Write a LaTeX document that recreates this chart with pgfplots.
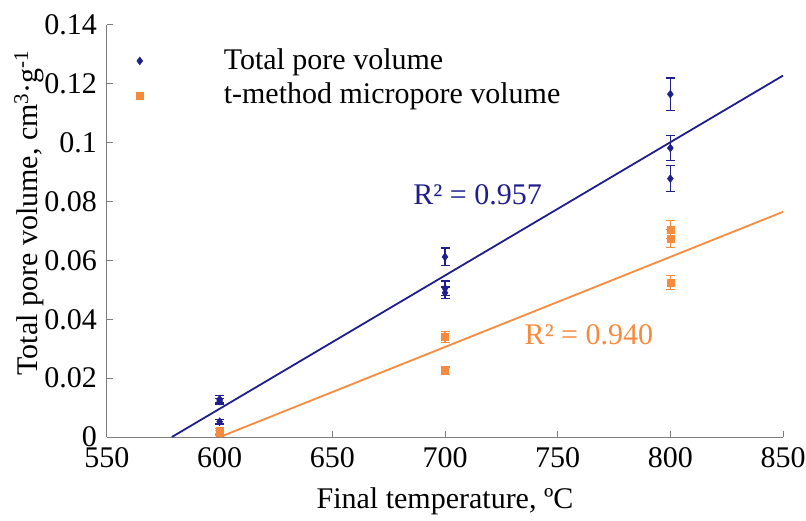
\documentclass[border=0pt]{standalone}
\usepackage{fontspec}
\setmainfont{Liberation Serif}
\usepackage{pgfplots}
\pgfplotsset{compat=1.18}

\definecolor{tpvblue}{RGB}{30,30,140}
\definecolor{microorange}{RGB}{247,138,60}
\definecolor{axisgray}{RGB}{125,125,125}

\newcommand{\bigfont}{\fontsize{30bp}{35bp}\selectfont}

\begin{document}
\bigfont
\begin{tikzpicture}
\begin{axis}[
  scale only axis,
  width=676bp, height=412bp,
  xmin=550, xmax=850, ymin=0, ymax=0.14,
  axis x line*=bottom, axis y line*=left,
  axis line style={axisgray, line width=1bp},
  xtick={550,600,650,700,750,800,850},
  ytick={0,0.02,0.04,0.06,0.08,0.1,0.12,0.14},
  yticklabels={0,0.02,0.04,0.06,0.08,0.1,0.12,0.14},
  tick align=inside,
  major tick length=6bp,
  tick style={axisgray, line width=1bp},
  /pgf/number format/assume math mode=true,
  ticklabel style={font=\bigfont},
  label style={font=\bigfont},
  xlabel={Final temperature, ºC},
  ylabel={Total pore volume, cm\textsuperscript{3}·g\textsuperscript{-1}},
  ylabel style={at={(axis description cs:-0.1154,0.544)}, anchor=center},
  clip=false,
  legend image code/.code={%
    \draw[#1] plot coordinates {(0bp,0bp)};
    \path[draw=none] (0bp,0bp) -- (83bp,0bp);},
  legend style={draw=none, fill=none, font=\bigfont,
    at={(axis cs:562.9,0.1325)}, anchor=north west,
    inner sep=0pt, row sep=7bp,
    nodes={inner sep=1bp},
    cells={anchor=west}},
]

% regression lines
\addplot[tpvblue, line width=1.8bp, forget plot] coordinates {(578.8,0) (850,0.1228)};
\addplot[microorange, line width=1.8bp, forget plot] coordinates {(600.1,0) (850,0.0765)};

% total pore volume with error bars
\addplot[only marks, mark=diamond*, mark size=4bp, color=tpvblue,
  error bars/.cd, y dir=both, y explicit,
  error bar style={line width=1.2bp, tpvblue},
  error mark options={rotate=90, mark size=4.5bp, line width=1.2bp, tpvblue}]
  coordinates {
    (600,0.0128) +- (0,0.0012)
    (600,0.0122) +- (0,0.0010)
    (600,0.0052) +- (0,0.0008)
    (700,0.0612) +- (0,0.0030)
    (700,0.0505) +- (0,0.0025)
    (700,0.0490) +- (0,0.0020)
    (800,0.1165) +- (0,0.0055)
    (800,0.0982) +- (0,0.0042)
    (800,0.0878) +- (0,0.0045)
  };
\addlegendentry{Total pore volume}

% t-method micropore volume with error bars
\addplot[only marks, mark=square*, mark size=3.5bp, color=microorange,
  error bars/.cd, y dir=both, y explicit,
  error bar style={line width=1.2bp, microorange},
  error mark options={rotate=90, mark size=4.5bp, line width=1.2bp, microorange}]
  coordinates {
    (600,0.0020) +- (0,0.0010)
    (600,0.0015) +- (0,0.0008)
    (700,0.0340) +- (0,0.0018)
    (700,0.0225) +- (0,0.0013)
    (800,0.0705) +- (0,0.0030)
    (800,0.0675) +- (0,0.0030)
    (800,0.0525) +- (0,0.0025)
  };
\addlegendentry{t-method micropore volume}

\node[anchor=west, inner sep=0pt, text=tpvblue, font=\bigfont] at (axis cs:685.9,0.0822) {R² = 0.957};
\node[anchor=west, inner sep=0pt, text=microorange, font=\bigfont] at (axis cs:735.3,0.0347) {R² = 0.940};
\end{axis}
\pgfresetboundingbox
\path[use as bounding box] (-107bp,-84bp) rectangle (699bp,437bp);
\end{tikzpicture}
\end{document}
